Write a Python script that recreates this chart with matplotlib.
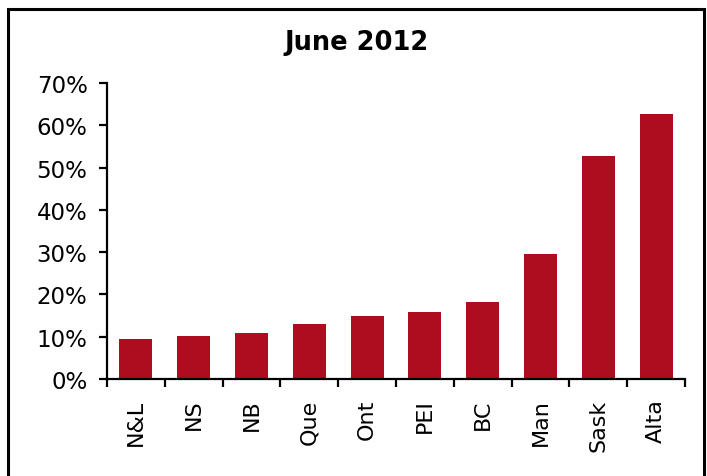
import numpy as np
from matplotlib import pyplot as plt
from matplotlib.patches import Rectangle

# provinces and June 2012 shares
provinces = ['N&L', 'NS', 'NB', 'Que', 'Ont', 'PEI', 'BC', 'Man', 'Sask', 'Alta']
shares = [9.5, 10.2, 10.9, 13.0, 14.9, 15.8, 18.2, 29.6, 52.7, 62.6]
y_ticks = [0, 10, 20, 30, 40, 50, 60, 70]

bar_color = '#AE0D1F'

# -------------------------------------------------------------------
fig = plt.figure(figsize=(7.07, 4.77), dpi=100)
ax = fig.add_axes([0.1513, 0.2034, 0.8176, 0.6205])

x = np.arange(len(provinces))
ax.bar(x, shares, width=0.57, color=bar_color, zorder=2)

ax.set_xlim(-0.5, len(provinces) - 0.5)
ax.set_ylim(0, 70)
ax.set_yticks(y_ticks)
ax.set_yticklabels([f'{v}%' for v in y_ticks])

# labels at bar centres, tick marks on the category boundaries
ax.set_xticks(x)
ax.set_xticklabels(provinces, rotation=90, ha='center', va='top')
ax.set_xticks(np.arange(-0.5, len(provinces)), minor=True)
ax.tick_params(axis='x', which='major', length=0, pad=14, labelsize=16)
ax.tick_params(axis='x', which='minor', length=6, width=1.6, direction='out')
ax.tick_params(axis='y', length=6, width=1.6, direction='out', pad=8, labelsize=16.5)

for s in ['top', 'right']:
    ax.spines[s].set_visible(False)
for s in ['left', 'bottom']:
    ax.spines[s].set_linewidth(1.6)

fig.text(0.505, 0.910, 'June 2012', ha='center', va='center',
         fontsize=18.5, fontweight='bold')

# outer frame, bottom edge runs off the image
fig.patches.append(Rectangle((8 / 707, -0.1), 696 / 707, 1.1 - 10 / 477,
                             transform=fig.transFigure, fill=False,
                             edgecolor='black', linewidth=2.2))

fig.savefig('out.png', dpi=100)
